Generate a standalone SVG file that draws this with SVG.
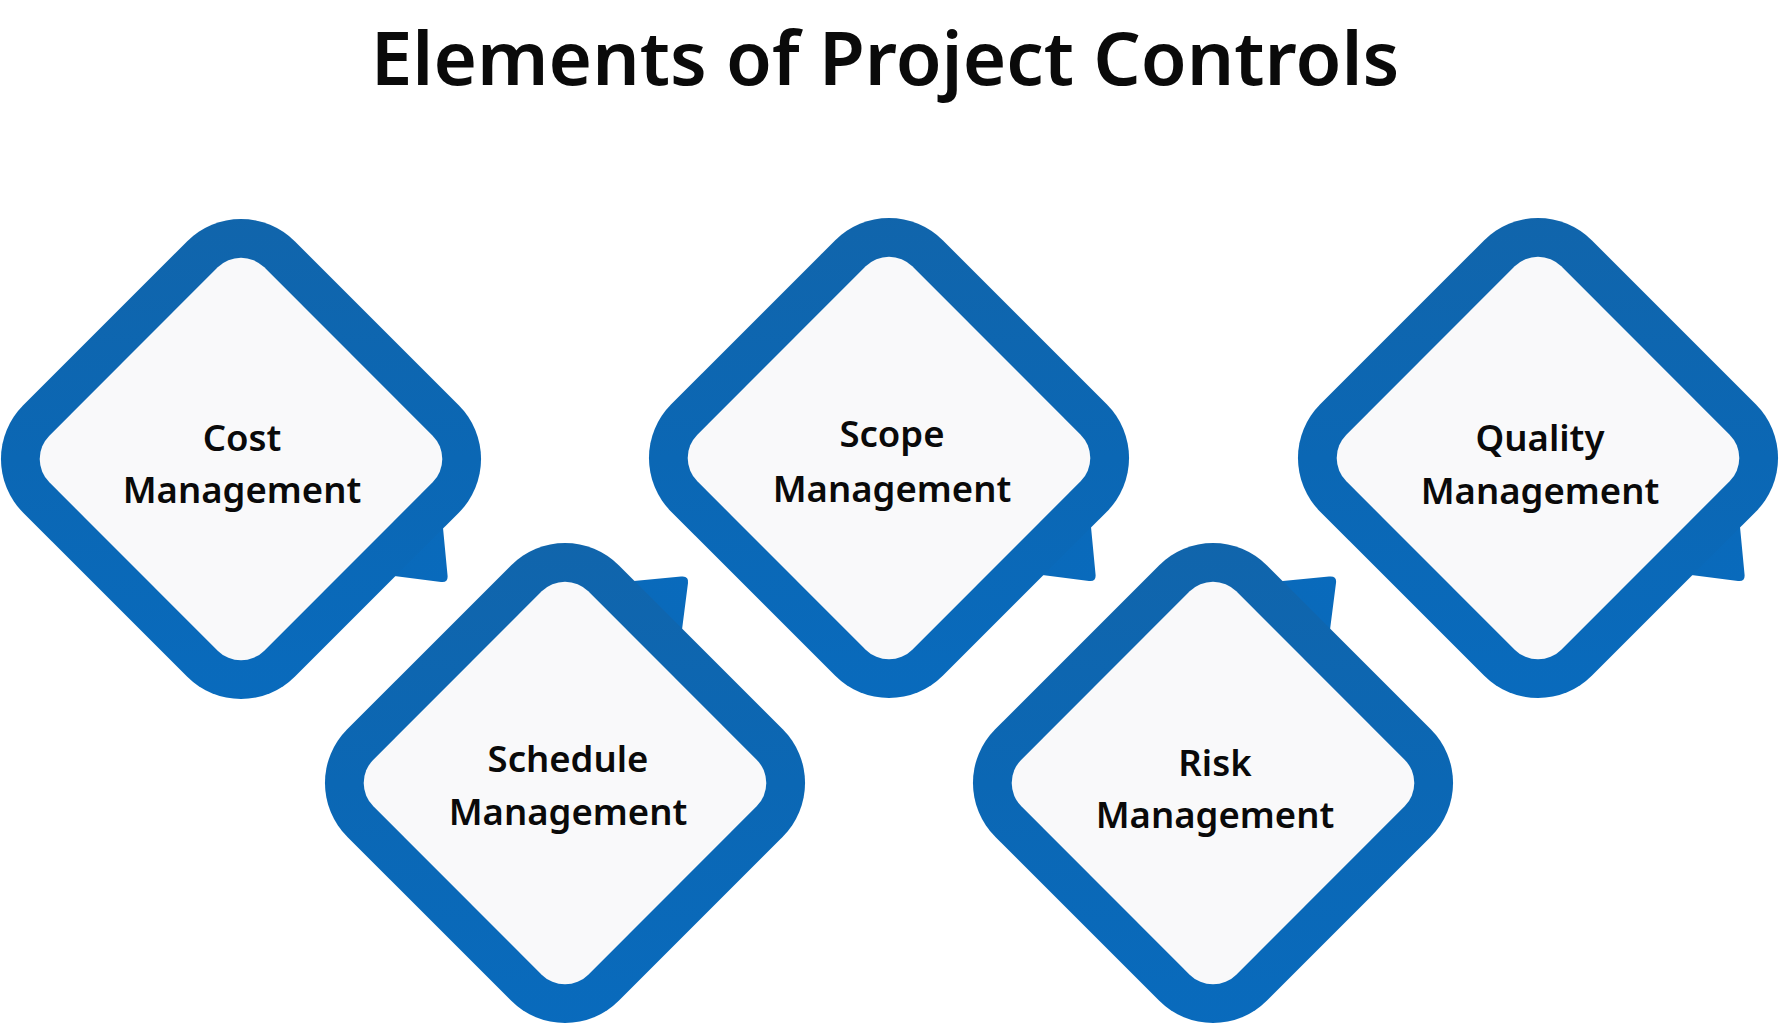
<svg xmlns="http://www.w3.org/2000/svg" xmlns:xlink="http://www.w3.org/1999/xlink" width="1780" height="1026" viewBox="0 0 1780 1026">
  <style>
    .title { font-family: "Noto Sans", "Open Sans", "Liberation Sans", sans-serif; font-weight: 600; font-size: 74.5px; fill: #0a0a0a; text-anchor: middle; }
    .label { font-family: "Noto Sans", "Open Sans", "Liberation Sans", sans-serif; font-weight: 600; font-size: 36.5px; fill: #0a0a0a; text-anchor: middle; }
    .border { fill: url(#blueGrad); }
    .inner { fill: #f9f9fa; }
  </style>
  <defs>
    <linearGradient id="blueGrad" gradientUnits="userSpaceOnUse" x1="-240" y1="-240" x2="240" y2="240">
      <stop offset="0" stop-color="#1364a8"/>
      <stop offset="0.5" stop-color="#0b67b4"/>
      <stop offset="1" stop-color="#086cc0"/>
    </linearGradient>
    <path id="tailSE" d="M200,48 L206.5,116 Q207.5,124 200,123 L130,114 Z"/>
    <rect id="outer" x="-192" y="-192" width="384" height="384" rx="76" ry="76" transform="rotate(45)"/>
    <rect id="innerShape" x="-152" y="-152" width="304" height="304" rx="33" ry="33" transform="rotate(45)"/>
  </defs>

  <rect x="0" y="0" width="1780" height="1026" fill="#ffffff"/>

  <text class="title" x="885" y="85">Elements of Project Controls</text>

  <g id="connectors"></g>

  <g id="node-cost">
    <g transform="translate(241,459)">
      <use xlink:href="#tailSE" href="#tailSE" class="border"/>
      <use xlink:href="#outer" href="#outer" class="border"/>
      <use xlink:href="#innerShape" href="#innerShape" class="inner"/>
    </g>
    <text class="label" x="242" y="451">Cost</text>
    <text class="label" x="242" y="503">Management</text>
  </g>

  <g id="node-schedule">
    <g transform="translate(565,783)">
      <use xlink:href="#tailSE" href="#tailSE" class="border" transform="rotate(-90)"/>
      <use xlink:href="#outer" href="#outer" class="border"/>
      <use xlink:href="#innerShape" href="#innerShape" class="inner"/>
    </g>
    <text class="label" x="568" y="772">Schedule</text>
    <text class="label" x="568" y="825">Management</text>
  </g>

  <g id="node-scope">
    <g transform="translate(889,458)">
      <use xlink:href="#tailSE" href="#tailSE" class="border"/>
      <use xlink:href="#outer" href="#outer" class="border"/>
      <use xlink:href="#innerShape" href="#innerShape" class="inner"/>
    </g>
    <text class="label" x="892" y="447">Scope</text>
    <text class="label" x="892" y="502">Management</text>
  </g>

  <g id="node-risk">
    <g transform="translate(1213,783)">
      <use xlink:href="#tailSE" href="#tailSE" class="border" transform="rotate(-90)"/>
      <use xlink:href="#outer" href="#outer" class="border"/>
      <use xlink:href="#innerShape" href="#innerShape" class="inner"/>
    </g>
    <text class="label" x="1215" y="776">Risk</text>
    <text class="label" x="1215" y="828">Management</text>
  </g>

  <g id="node-quality">
    <g transform="translate(1538,458)">
      <use xlink:href="#tailSE" href="#tailSE" class="border"/>
      <use xlink:href="#outer" href="#outer" class="border"/>
      <use xlink:href="#innerShape" href="#innerShape" class="inner"/>
    </g>
    <text class="label" x="1540" y="451">Quality</text>
    <text class="label" x="1540" y="504">Management</text>
  </g>
</svg>
